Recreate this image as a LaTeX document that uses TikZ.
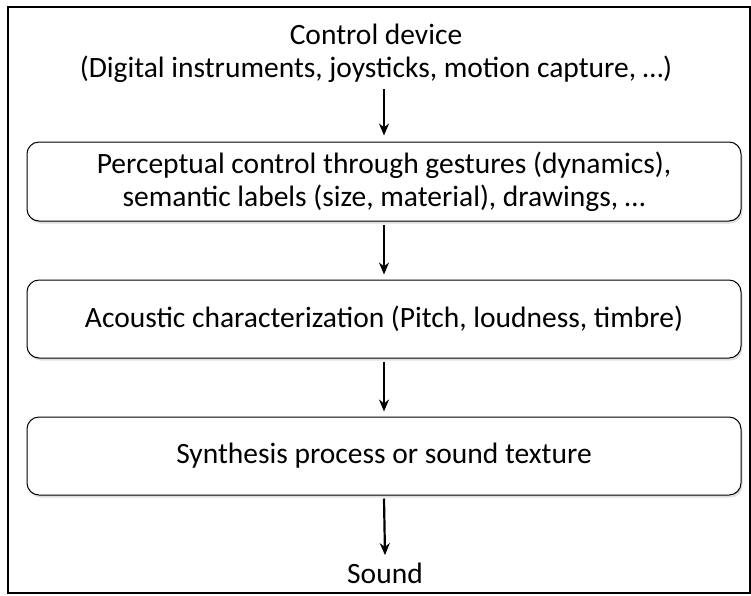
\documentclass[tikz,border=0pt]{standalone}
\usepackage{fontspec}
\setmainfont{Carlito}
\usetikzlibrary{arrows.meta,shadows}

\tikzset{
  stage/.style={draw, rounded corners=12pt, line width=1pt, fill=white,
    minimum width=714pt, minimum height=78pt, align=center,
    drop shadow={opacity=0.25, shadow xshift=1.5pt, shadow yshift=-2.5pt}},
  flow/.style={-{Stealth[length=12pt,width=10pt]}, line width=2.2pt},
}

\begin{document}
\begin{tikzpicture}[x=1pt,y=-1pt,font=\fontsize{29.5}{33}\selectfont]
    \useasboundingbox (0,0) rectangle (751,595);
    % outer frame
    \draw[line width=2.4pt] (8,7) rectangle (750,593);

    % input
    \node[align=center] (device) at (376,53) {Control device\\(Digital instruments, joysticks, motion capture, …)};

    % stages
    \node[stage, minimum height=79pt] (percept) at (384,181.5) {Perceptual control through gestures (dynamics),\\semantic labels (size, material), drawings, …};
    \node[stage] (acoustic) at (384,319) {Acoustic characterization (Pitch, loudness, timbre)};
    \node[stage] (synth) at (384,456) {Synthesis process or sound texture};

    % output
    \node (sound) at (385,573) {Sound};

    \draw[flow] ([yshift=-3pt]device.south -| percept.north) -- ([yshift=6pt]percept.north);
    \draw[flow] ([yshift=-3pt]percept.south) -- ([yshift=5pt]acoustic.north);
    \draw[flow] ([yshift=-3pt]acoustic.south) -- ([yshift=5pt]synth.north);
    \draw[flow] ([yshift=-3pt]synth.south) -- ([yshift=4pt]sound.north);
\end{tikzpicture}
\end{document}
